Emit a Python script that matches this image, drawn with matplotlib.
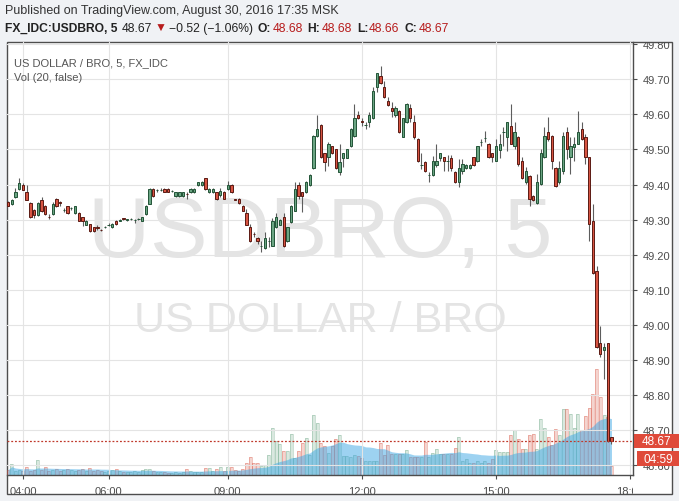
import matplotlib
matplotlib.use('Agg')
import matplotlib.pyplot as plt
from matplotlib import font_manager as fm
from matplotlib.patches import Rectangle
from matplotlib.transforms import Bbox, TransformedBbox, blended_transform_factory
import numpy as np
import pandas as pd

# 5-minute candles FX_IDC:USDBRO, 30 Aug 2016
opens = [
    49.350, 49.345, 49.365, 49.387, 49.400, 49.378, 49.347, 49.327, 49.314, 49.357,
    49.338, 49.309, 49.316, 49.358, 49.349, 49.327, 49.338, 49.332, 49.318, 49.319,
    49.307, 49.286, 49.287, 49.278, 49.278, 49.272, 49.278, 49.285, 49.278, 49.297,
    49.297, 49.304, 49.300, 49.302, 49.298, 49.303, 49.297, 49.316, 49.346, 49.387,
    49.385, 49.386, 49.387, 49.387, 49.383, 49.367, 49.367, 49.367, 49.373, 49.378,
    49.378, 49.398, 49.399, 49.418, 49.378, 49.378, 49.378, 49.369, 49.378, 49.388,
    49.399, 49.358, 49.359, 49.340, 49.319, 49.278, 49.259, 49.248, 49.226, 49.219,
    49.238, 49.226, 49.278, 49.286, 49.307, 49.238, 49.294, 49.326, 49.399, 49.378,
    49.378, 49.399, 49.446, 49.538, 49.570, 49.489, 49.478, 49.509, 49.500, 49.437,
    49.477, 49.477, 49.509, 49.538, 49.598, 49.580, 49.570, 49.578, 49.589, 49.677,
    49.710, 49.677, 49.639, 49.617, 49.597, 49.611, 49.537, 49.578, 49.617, 49.578,
    49.530, 49.456, 49.465, 49.427, 49.426, 49.456, 49.477, 49.478, 49.466, 49.477,
    49.437, 49.407, 49.438, 49.446, 49.446, 49.478, 49.466, 49.520, 49.533, 49.517,
    49.489, 49.468, 49.498, 49.549, 49.536, 49.568, 49.511, 49.536, 49.468, 49.406,
    49.425, 49.368, 49.348, 49.402, 49.478, 49.549, 49.539, 49.447, 49.406, 49.438,
    49.549, 49.478, 49.508, 49.517, 49.558, 49.536, 49.478, 49.297, 49.155, 48.948,
    48.929, 48.948, 48.680,
]
highs = [
    49.352, 49.360, 49.389, 49.420, 49.404, 49.400, 49.350, 49.330, 49.350, 49.366,
    49.342, 49.316, 49.350, 49.362, 49.352, 49.332, 49.340, 49.335, 49.340, 49.322,
    49.309, 49.298, 49.289, 49.280, 49.285, 49.274, 49.282, 49.290, 49.290, 49.300,
    49.302, 49.306, 49.303, 49.305, 49.302, 49.306, 49.308, 49.342, 49.389, 49.390,
    49.388, 49.390, 49.389, 49.389, 49.386, 49.379, 49.379, 49.379, 49.379, 49.389,
    49.389, 49.408, 49.410, 49.420, 49.389, 49.389, 49.380, 49.389, 49.381, 49.409,
    49.402, 49.360, 49.361, 49.342, 49.331, 49.288, 49.266, 49.250, 49.238, 49.266,
    49.250, 49.304, 49.319, 49.302, 49.319, 49.280, 49.342, 49.407, 49.407, 49.380,
    49.409, 49.430, 49.540, 49.598, 49.572, 49.491, 49.521, 49.511, 49.502, 49.516,
    49.491, 49.502, 49.561, 49.630, 49.611, 49.589, 49.578, 49.606, 49.677, 49.719,
    49.739, 49.696, 49.649, 49.634, 49.625, 49.613, 49.591, 49.632, 49.630, 49.597,
    49.532, 49.489, 49.468, 49.435, 49.482, 49.516, 49.491, 49.480, 49.483, 49.483,
    49.439, 49.473, 49.473, 49.458, 49.458, 49.480, 49.511, 49.530, 49.554, 49.519,
    49.491, 49.530, 49.544, 49.563, 49.579, 49.630, 49.577, 49.538, 49.479, 49.449,
    49.427, 49.370, 49.430, 49.501, 49.563, 49.592, 49.541, 49.449, 49.468, 49.549,
    49.563, 49.535, 49.535, 49.610, 49.577, 49.544, 49.480, 49.344, 49.169, 48.998,
    48.950, 48.950, 48.680,
]
lows = [
    49.338, 49.343, 49.363, 49.385, 49.384, 49.355, 49.305, 49.305, 49.310, 49.322,
    49.312, 49.303, 49.314, 49.335, 49.340, 49.322, 49.316, 49.328, 49.316, 49.296,
    49.281, 49.284, 49.266, 49.266, 49.270, 49.268, 49.276, 49.283, 49.276, 49.286,
    49.295, 49.300, 49.296, 49.298, 49.290, 49.300, 49.295, 49.314, 49.344, 49.365,
    49.380, 49.383, 49.378, 49.378, 49.380, 49.365, 49.365, 49.365, 49.360, 49.376,
    49.376, 49.396, 49.397, 49.385, 49.376, 49.376, 49.357, 49.366, 49.358, 49.386,
    49.376, 49.355, 49.346, 49.324, 49.284, 49.237, 49.250, 49.231, 49.209, 49.217,
    49.221, 49.224, 49.276, 49.284, 49.221, 49.236, 49.292, 49.324, 49.359, 49.321,
    49.376, 49.397, 49.444, 49.536, 49.476, 49.440, 49.454, 49.487, 49.444, 49.427,
    49.449, 49.475, 49.507, 49.536, 49.587, 49.568, 49.557, 49.563, 49.587, 49.663,
    49.687, 49.647, 49.625, 49.592, 49.592, 49.547, 49.535, 49.576, 49.578, 49.530,
    49.464, 49.445, 49.435, 49.408, 49.424, 49.449, 49.468, 49.440, 49.440, 49.440,
    49.405, 49.392, 49.430, 49.444, 49.444, 49.454, 49.464, 49.511, 49.522, 49.476,
    49.463, 49.466, 49.477, 49.511, 49.497, 49.515, 49.501, 49.454, 49.417, 49.401,
    49.340, 49.354, 49.346, 49.400, 49.476, 49.525, 49.444, 49.392, 49.401, 49.430,
    49.473, 49.430, 49.468, 49.515, 49.528, 49.459, 49.240, 49.145, 48.934, 48.908,
    48.846, 48.668, 48.660,
]
closes = [
    49.340, 49.357, 49.380, 49.405, 49.386, 49.357, 49.307, 49.314, 49.347, 49.326,
    49.316, 49.308, 49.346, 49.338, 49.348, 49.328, 49.318, 49.333, 49.338, 49.297,
    49.297, 49.297, 49.267, 49.267, 49.277, 49.271, 49.279, 49.286, 49.288, 49.288,
    49.298, 49.303, 49.301, 49.302, 49.299, 49.303, 49.307, 49.340, 49.387, 49.367,
    49.386, 49.386, 49.379, 49.379, 49.383, 49.378, 49.378, 49.378, 49.372, 49.387,
    49.387, 49.407, 49.408, 49.387, 49.387, 49.387, 49.359, 49.383, 49.359, 49.399,
    49.378, 49.357, 49.348, 49.326, 49.286, 49.239, 49.258, 49.238, 49.226, 49.247,
    49.238, 49.297, 49.307, 49.300, 49.226, 49.278, 49.340, 49.388, 49.367, 49.367,
    49.407, 49.428, 49.538, 49.559, 49.478, 49.465, 49.516, 49.489, 49.446, 49.465,
    49.489, 49.500, 49.559, 49.589, 49.589, 49.579, 49.570, 49.597, 49.668, 49.717,
    49.689, 49.649, 49.628, 49.609, 49.617, 49.549, 49.589, 49.630, 49.589, 49.537,
    49.466, 49.456, 49.438, 49.427, 49.466, 49.468, 49.489, 49.466, 49.466, 49.446,
    49.407, 49.446, 49.459, 49.456, 49.456, 49.456, 49.509, 49.520, 49.533, 49.478,
    49.478, 49.511, 49.517, 49.549, 49.577, 49.517, 49.549, 49.459, 49.419, 49.438,
    49.359, 49.356, 49.406, 49.489, 49.539, 49.530, 49.468, 49.397, 49.447, 49.539,
    49.501, 49.511, 49.517, 49.549, 49.530, 49.478, 49.288, 49.147, 48.936, 48.917,
    48.937, 48.670, 48.670,
]
# volume, arbitrary units
volume = [
    5, 11, 4, 5, 4, 8, 4, 5, 15, 5,
    8, 4, 5, 6, 4, 5, 6, 5, 4, 5,
    6, 4, 7, 4, 5, 4, 3, 4, 5, 6,
    4, 3, 3, 3, 4, 3, 5, 6, 6, 4,
    3, 3, 3, 2, 2, 3, 2, 3, 6, 4,
    3, 3, 3, 7, 7, 4, 6, 8, 4, 8,
    8, 5, 4, 6, 12, 18, 12, 12, 9, 10,
    20, 47, 34, 31, 24, 24, 41, 17, 24, 32,
    37, 20, 60, 52, 32, 29, 22, 29, 36, 40,
    19, 19, 18, 20, 19, 17, 14, 14, 14, 14,
    32, 20, 30, 21, 21, 21, 21, 25, 18, 18,
    18, 18, 33, 18, 22, 26, 21, 21, 21, 21,
    27, 38, 14, 16, 12, 12, 14, 12, 14, 12,
    16, 25, 23, 23, 23, 40, 45, 36, 26, 26,
    40, 41, 26, 56, 47, 38, 30, 46, 40, 66,
    66, 61, 47, 61, 45, 59, 67, 81, 106, 78,
    60, 58, 9,
]

time_pos = [4, 27, 59, 95, 131, 167]
time_labels = ['04:00', '06:00', '09:00', '12:00', '15:00', '18:00']
price_ticks = [48.6, 48.7, 48.8, 48.9, 49.0, 49.1, 49.2, 49.3, 49.4, 49.5, 49.6, 49.7, 49.8]
last_price = 48.67

df = pd.DataFrame({'open': opens, 'high': highs, 'low': lows, 'close': closes, 'vol': volume})
df['ma'] = df['vol'].rolling(20, min_periods=1).mean()
x = np.arange(len(df))
up = df['close'] >= df['open']

# 字体
names = {f.name for f in fm.fontManager.ttflist}
hdr_font = 'Liberation Sans Narrow' if 'Liberation Sans Narrow' in names else 'Liberation Sans'
plt.rcParams['font.family'] = ['Liberation Sans', 'DejaVu Sans']

W, H = 679, 502
fig = plt.figure(figsize=(W / 100, H / 100), dpi=100, facecolor='#f0f2f5')


def fx(px):
    return px / W


def fy(py):
    return 1 - py / H


# chart frame
fig.add_artist(Rectangle((fx(6.7), fy(495)), fx(671.7) - fx(6.7), fy(42.7) - fy(495),
                         transform=fig.transFigure, facecolor='white',
                         edgecolor='#4d4d4d', lw=1, zorder=0))

# watermark
fig.text(fx(320), fy(257), 'USDBRO, 5', ha='center', va='baseline', fontsize=62,
         color='#e4e4e4', zorder=0.5)
fig.text(fx(320), fy(332), 'US DOLLAR / BRO', ha='center', va='baseline', fontsize=31,
         color='#e4e4e4', zorder=0.5)

rect = [fx(6.7), fy(475.7), fx(632.7) - fx(6.7), fy(42.7) - fy(475.7)]
xlim = (-0.35, 167.7)

# volume pane
ax_vol = fig.add_axes(rect, zorder=1)
ax_vol.patch.set_visible(False)
ax_vol.axis('off')
vol_face = np.where(up, '#6ba583', '#d75442')
ax_vol.bar(x, df['vol'], width=0.8, color=vol_face, alpha=0.25, lw=0)
ax_vol.bar(x, df['vol'], width=0.8, facecolor='none', edgecolor=vol_face, alpha=0.4, lw=0.6)
ax_vol.fill_between(x, df['ma'], color='#3ca7e5', alpha=0.5, lw=0)
ax_vol.set_xlim(*xlim)
ax_vol.set_ylim(0, 433)

# price pane
ax = fig.add_axes(rect, zorder=2)
ax.patch.set_visible(False)
ax.vlines(x, df['low'], df['high'], color='#5d5d5d', lw=0.8, zorder=3)
body_lo = np.minimum(df['open'], df['close'])
body_h = (df['close'] - df['open']).abs()
ax.bar(x, body_h, bottom=body_lo, width=0.62,
       color=np.where(up, '#6ba583', '#d75442'),
       edgecolor=np.where(up, '#225437', '#5b1a13'), lw=0.7, zorder=4)
ax.axhline(last_price, color='#c0392b', lw=0.9, ls=(0, (1.5, 1.5)), zorder=5)

ax.set_xlim(*xlim)
ax.set_ylim(48.5735, 49.8071)
ax.set_xticks(time_pos)
ax.set_xticklabels(time_labels)
ax.set_yticks(price_ticks)
ax.set_yticklabels([f'{v:.2f}' for v in price_ticks])
ax.yaxis.tick_right()
ax.grid(color='#e4e4e4', lw=0.8)
ax.set_axisbelow(True)
for s in ['left', 'top']:
    ax.spines[s].set_visible(False)
for s in ['right', 'bottom']:
    ax.spines[s].set_color('#4d4d4d')
    ax.spines[s].set_linewidth(1)
ax.tick_params(axis='y', direction='out', length=3, color='#4d4d4d',
               labelsize=8, labelcolor='#4d4d4d', pad=4)
ax.tick_params(axis='x', direction='out', length=3, color='#4d4d4d',
               labelsize=8, labelcolor='#4d4d4d', pad=5)

price_clip = TransformedBbox(Bbox.from_extents(fx(632.7), fy(495), fx(671.7), fy(42.7)), fig.transFigure)
time_clip = TransformedBbox(Bbox.from_extents(fx(6.7), fy(495), fx(632.7), fy(475.7)), fig.transFigure)
for lab in ax.get_yticklabels():
    lab.set_clip_box(price_clip)
    lab.set_clip_on(True)
for lab in ax.get_xticklabels():
    lab.set_clip_box(time_clip)
    lab.set_clip_on(True)

# last price labels on the scale (pixel sizes converted to axes / price units)
bt = blended_transform_factory(ax.transAxes, ax.transData)
pxx = 1 / 626.0   # axes fraction per pixel
pxy = 1 / 351.0   # price per pixel
ax.add_patch(Rectangle((1 + 1 * pxx, last_price - 6.8 * pxy), 45.5 * pxx, 13.6 * pxy,
                       transform=bt, facecolor='#df4a3a', edgecolor='none',
                       clip_on=False, zorder=10))
ax.text(1 + 23.5 * pxx, last_price, f'{last_price:.2f}', transform=bt, ha='center', va='center',
        color='white', fontsize=8.5, zorder=11, clip_on=False)
ax.add_patch(Rectangle((1 + 4.5 * pxx, last_price - 25.3 * pxy), 42 * pxx, 15 * pxy,
                       transform=bt, facecolor='#df4a3a', edgecolor='none',
                       clip_on=False, zorder=10))
ax.text(1 + 25.5 * pxx, last_price - 17.8 * pxy, '04:59', transform=bt, ha='center',
        va='center', color='white', fontsize=8.5, zorder=11, clip_on=False)

# legend lines
fig.text(fx(14), fy(63), 'US DOLLAR / BRO, 5, FX_IDC', va='center', fontsize=8, color='#555555')
fig.text(fx(14), fy(78), 'Vol (20, false)', va='center', fontsize=8, color='#555555')

# header
r = fig.canvas.get_renderer()
fam = [hdr_font, 'DejaVu Sans']
t1 = fig.text(fx(5), fy(11), 'Published on TradingView.com, August 30, 2016 17:35 MSK',
              va='center', fontsize=10, color='#333333', family=fam)
w1 = t1.get_window_extent(renderer=r).width
t1.set_fontsize(10 * 335 / w1)

segs = [('FX_IDC:USDBRO, 5', 'bold', '#222222', 4),
        ('48.67', 'normal', '#222222', 3),
        ('\u25bc', 'normal', '#b71c1c', 2),
        ('\u22120.52 (\u22121.06%)', 'normal', '#222222', 5),
        ('O:', 'bold', '#222222', 1), ('48.68', 'normal', '#b71c1c', 5),
        ('H:', 'bold', '#222222', 1), ('48.68', 'normal', '#b71c1c', 5),
        ('L:', 'bold', '#222222', 1), ('48.66', 'normal', '#b71c1c', 5),
        ('C:', 'bold', '#222222', 1), ('48.67', 'normal', '#b71c1c', 0)]


def lay(size, draw):
    xp = 5
    for txt, wt, col, gap in segs:
        t = fig.text(fx(xp), fy(29), txt, va='center', fontsize=size, fontweight=wt,
                     color=col, family=fam)
        xp += t.get_window_extent(renderer=r).width + gap
        if not draw:
            t.remove()
    return xp


end = lay(10, False)
lay(10 * (448 - 5 - 32) / (end - 5 - 32), True)

fig.savefig('out.png', dpi=100, facecolor=fig.get_facecolor())
